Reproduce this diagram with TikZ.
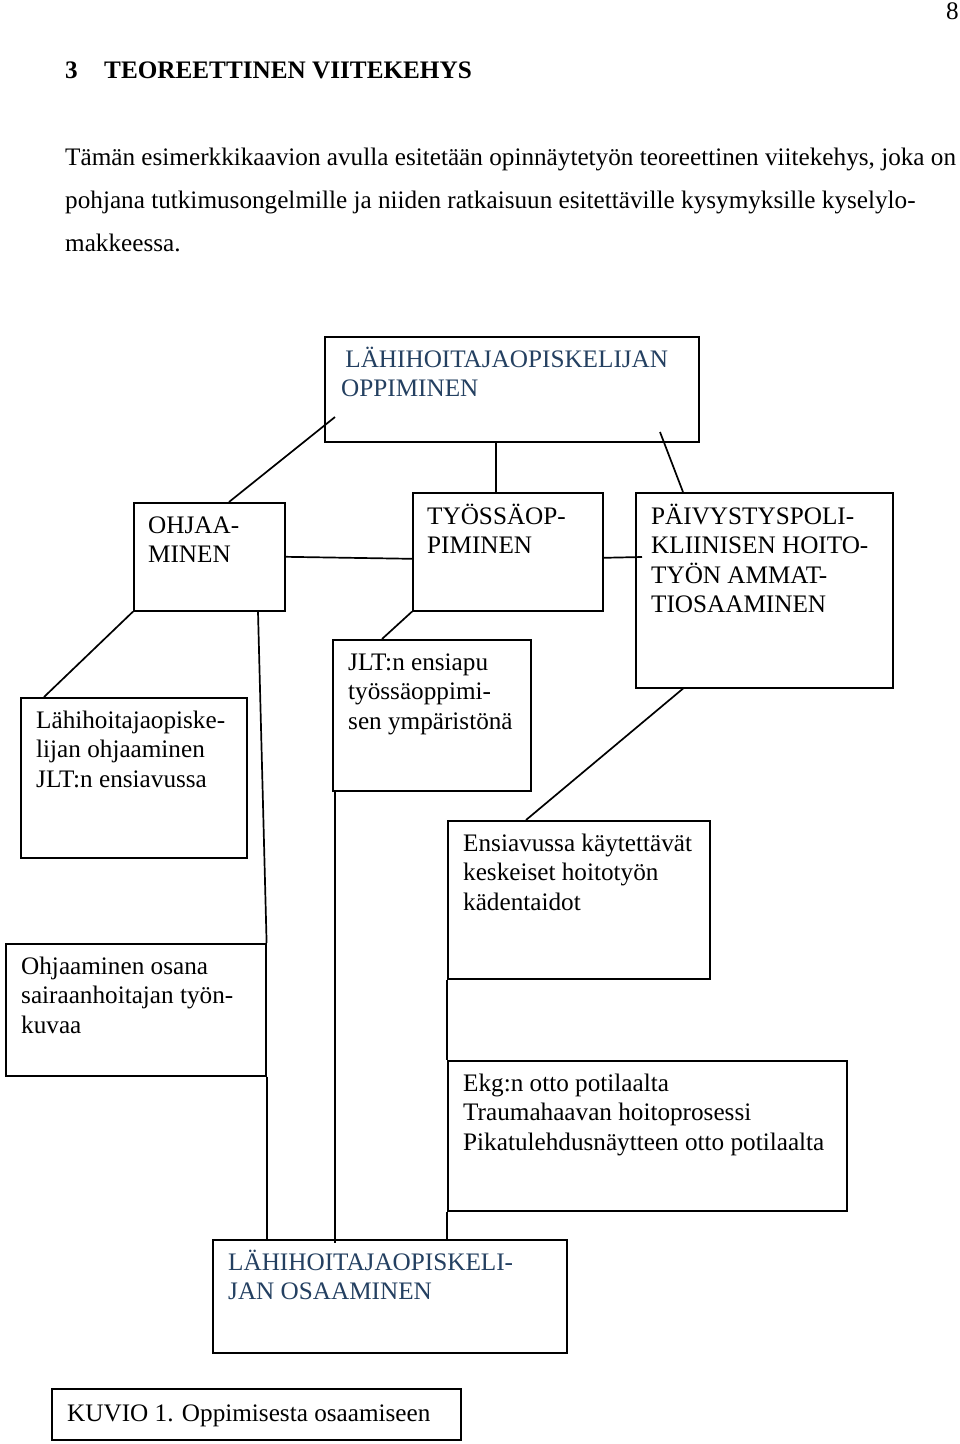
\documentclass[tikz,border=0pt]{standalone}
\usepackage{fontspec}
\setmainfont{Liberation Serif}
\usetikzlibrary{calc}
\definecolor{hblue}{RGB}{36,64,97}
\newcommand\mylines[1]{\begin{tabular}[t]{@{}l@{}}#1\end{tabular}}
\begin{document}
\begin{tikzpicture}[x=1pt,y=-1pt,
  box/.style={draw, line width=1.6pt, inner sep=0pt, anchor=north west},
  txt/.style={anchor=base west, inner sep=0pt, font=\fontsize{25.2}{29.5}\selectfont},
  ln/.style={line width=1.7pt}]
\useasboundingbox (0,0) rectangle (960,1444);
\fill[white] (0,0) rectangle (960,1444);

% page header and body
\node[txt] (pnum) at (946,19) {8};
\node[txt, font=\fontsize{25.2}{29.5}\selectfont\bfseries] (hnum) at (65,78) {3};
\node[txt, font=\fontsize{25.2}{29.5}\selectfont\bfseries] (htitle) at (104,78) {TEOREETTINEN VIITEKEHYS};
\node[txt] (p1) at (65,165) {Tämän esimerkkikaavion avulla esitetään opinnäytetyön teoreettinen viitekehys, joka on};
\node[txt] (p2) at (65,208) {pohjana tutkimusongelmille ja niiden ratkaisuun esitettäville kysymyksille kyselylo-};
\node[txt] (p3) at (65,251) {makkeessa.};

% boxes
\node[box, minimum width=374pt, minimum height=105pt] (top) at (324,336) {};
\node[box, minimum width=151pt, minimum height=108pt] (ohj) at (133,502) {};
\node[box, minimum width=190pt, minimum height=118pt] (tyo) at (412,492) {};
\node[box, minimum width=257pt, minimum height=195pt] (paiv) at (635,492) {};
\node[box, minimum width=226pt, minimum height=160pt] (lahi) at (20,697) {};
\node[box, minimum width=198pt, minimum height=151pt] (jlt) at (332,639) {};
\node[box, minimum width=262pt, minimum height=158pt] (ens) at (447,820) {};
\node[box, minimum width=260pt, minimum height=132pt] (osana) at (5,943) {};
\node[box, minimum width=399pt, minimum height=150pt] (ekg) at (447,1060) {};
\node[box, minimum width=354pt, minimum height=113pt] (bot) at (212,1239) {};
\node[box, minimum width=409pt, minimum height=51pt] (kuvio) at (51,1388) {};

% texts
\node[txt, text=hblue] (ttop) at (341,367) {\mylines{\,LÄHIHOITAJAOPISKELIJAN\\OPPIMINEN}};
\node[txt] (tohj) at (148,533) {\mylines{OHJAA-\\MINEN}};
\node[txt] (ttyo) at (427,524) {\mylines{TYÖSSÄOP-\\PIMINEN}};
\node[txt] (tpaiv) at (651,524) {\mylines{PÄIVYSTYSPOLI-\\KLIINISEN HOITO-\\TYÖN AMMAT-\\TIOSAAMINEN}};
\node[txt] (tlahi) at (36,728) {\mylines{Lähihoitajaopiske-\\lijan ohjaaminen\\JLT:n ensiavussa}};
\node[txt] (tjlt) at (348,670) {\mylines{JLT:n ensiapu\\työssäoppimi-\\sen ympäristönä}};
\node[txt] (tens) at (463,851) {\mylines{Ensiavussa käytettävät\\keskeiset hoitotyön\\kädentaidot}};
\node[txt] (tosana) at (21,974) {\mylines{Ohjaaminen osana\\sairaanhoitajan työn-\\kuvaa}};
\node[txt] (tekg) at (463,1091) {\mylines{Ekg:n otto potilaalta\\Traumahaavan hoitoprosessi\\Pikatulehdusnäytteen otto potilaalta}};
\node[txt, text=hblue] (tbot) at (228,1270) {\mylines{LÄHIHOITAJAOPISKELI-\\JAN OSAAMINEN}};
\node[txt] (tkuvio) at (67,1421) {KUVIO 1. Oppimisesta osaamiseen};

% connector end points inside boxes
\coordinate (c1) at (335,417);
\coordinate (c2) at (660,432);
\coordinate (c3) at (642,557);

% connectors
\draw[ln] (c1) -- ($(ohj.north west)+(96,0)$);
\draw[ln] ($(top.south west)+(172,0)$) -- ($(tyo.north west)+(84,0)$);
\draw[ln] (c2) -- ($(paiv.north west)+(48,0)$);
\draw[ln] (ohj.east) -- ($(tyo.west)+(0,7)$);
\draw[ln] ($(tyo.east)+(0,6)$) -- (c3);
\draw[ln] (ohj.south west) -- ($(lahi.north west)+(24,0)$);
\draw[ln] ($(ohj.south west)+(125,0)$) -- (osana.north east);
\draw[ln] ($(osana.south east)+(0.3,0)$) -- ($(osana.south east |- bot.north)+(0.3,0)$);
\draw[ln] (tyo.south west) -- ($(jlt.north west)+(50,0)$);
\draw[ln] ($(jlt.south west)+(3,0)$) -- ($(bot.north west)+(123,4)$);
\draw[ln] ($(paiv.south west)+(48,0)$) -- ($(ens.north west)+(79,0)$);
\draw[ln] ($(ens.south west)+(0.3,0)$) -- ($(ekg.north west)+(0.3,0)$);
\draw[ln] ($(ekg.south west)+(0.3,0)$) -- ($(bot.north west)+(235.3,0)$);
\end{tikzpicture}
\end{document}
